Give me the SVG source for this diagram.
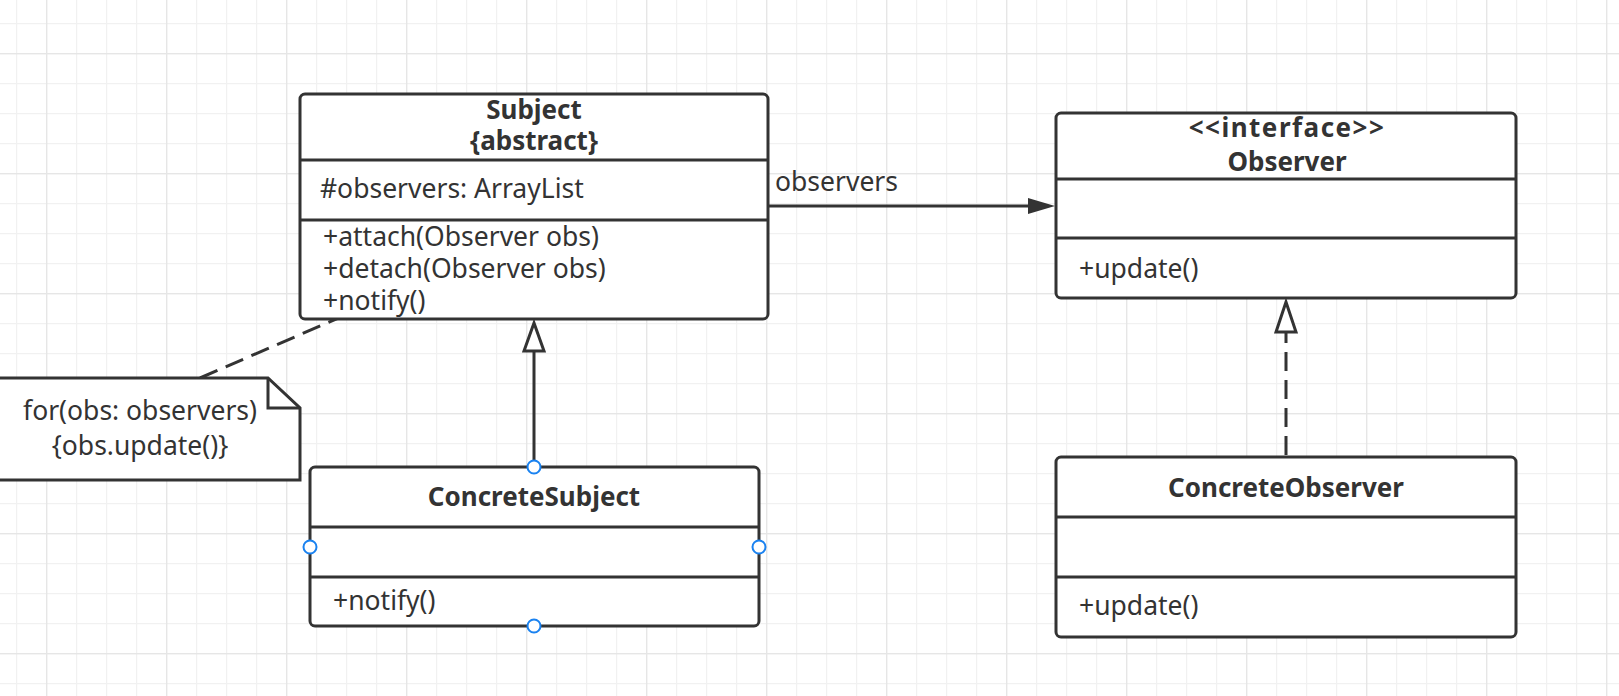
<svg xmlns="http://www.w3.org/2000/svg" width="1619" height="696" viewBox="0 0 1619 696">
<defs>
<pattern id="grid" x="46" y="53" width="120" height="120" patternUnits="userSpaceOnUse">
<rect x="0" y="0" width="120" height="120" fill="#ffffff"/>
<rect x="30" y="0" width="1.2" height="120" fill="#f1f1f1"/>
<rect x="60" y="0" width="1.2" height="120" fill="#f1f1f1"/>
<rect x="90" y="0" width="1.2" height="120" fill="#f1f1f1"/>
<rect x="0" y="30" width="120" height="1.2" fill="#f1f1f1"/>
<rect x="0" y="60" width="120" height="1.2" fill="#f1f1f1"/>
<rect x="0" y="90" width="120" height="1.2" fill="#f1f1f1"/>
<rect x="0" y="0" width="1.4" height="120" fill="#e6e6e6"/>
<rect x="0" y="0" width="120" height="1.4" fill="#e6e6e6"/>
</pattern>
</defs>
<style>
.box{fill:#ffffff;stroke:#333333;stroke-width:3}
.div{stroke:#333333;stroke-width:3}
.t{font-family:"Noto Sans","Open Sans","DejaVu Sans",sans-serif;font-size:26.5px;fill:#333333}
.b{font-family:"Noto Sans","Open Sans","DejaVu Sans",sans-serif;font-size:26px;font-weight:bold;fill:#333333;text-anchor:middle}
.c{text-anchor:middle}
.ln{stroke:#333333;stroke-width:3;fill:none}
.dash{stroke-dasharray:19 9}
.h{fill:#ffffff;stroke:#1a82f0;stroke-width:2}
</style>
<rect x="0" y="0" width="1619" height="696" fill="url(#grid)"/>

<g id="connectors">
<line class="ln" x1="768" y1="206" x2="1030" y2="206"/>
<polygon points="1055,206 1028,198 1028,214" fill="#333333"/>
<text class="t" x="775" y="191">observers</text>
<line class="ln" x1="534" y1="467" x2="534" y2="351"/>
<polygon points="534,323 524,351 544,351" fill="#ffffff" stroke="#333333" stroke-width="3" stroke-linejoin="miter"/>
<line class="ln dash" x1="1286" y1="455" x2="1286" y2="332"/>
<polygon points="1286,302 1276,332 1296,332" fill="#ffffff" stroke="#333333" stroke-width="3"/>
<line class="ln dash" x1="200" y1="378" x2="373" y2="303"/>
</g>

<g id="subject">
<rect class="box" x="300" y="94" width="468" height="225" rx="5"/>
<line class="div" x1="300" y1="160" x2="768" y2="160"/>
<line class="div" x1="300" y1="220" x2="768" y2="220"/>
<text class="b" x="534" y="119">Subject</text>
<text class="b" x="534" y="150">{abstract}</text>
<text class="t" x="320" y="198">#observers: ArrayList</text>
<text class="t" x="323" y="246">+attach(Observer obs)</text>
<text class="t" x="323" y="278">+detach(Observer obs)</text>
<text class="t" x="323" y="310">+notify()</text>
</g>

<g id="observer">
<rect class="box" x="1056" y="113" width="460" height="185" rx="5"/>
<line class="div" x1="1056" y1="179" x2="1516" y2="179"/>
<line class="div" x1="1056" y1="238" x2="1516" y2="238"/>
<text class="b" x="1287" y="137" style="letter-spacing:1.5px">&lt;&lt;interface&gt;&gt;</text>
<text class="b" x="1287" y="171">Observer</text>
<text class="t" x="1079" y="278">+update()</text>
</g>

<g id="note">
<polygon class="box" points="-5,378 268,378 300,408 300,480 -5,480"/>
<polyline class="ln" points="268,378 268,408 300,408"/>
<text class="t c" x="140" y="420">for(obs: observers)</text>
<text class="t c" x="140" y="455">{obs.update()}</text>
</g>

<g id="concrete-subject">
<rect class="box" x="310" y="467" width="449" height="159" rx="5"/>
<line class="div" x1="310" y1="527" x2="759" y2="527"/>
<line class="div" x1="310" y1="577" x2="759" y2="577"/>
<text class="b" x="534" y="506">ConcreteSubject</text>
<text class="t" x="333" y="610">+notify()</text>
<circle class="h" cx="534" cy="467" r="6.5"/>
<circle class="h" cx="310" cy="547" r="6.5"/>
<circle class="h" cx="759" cy="547" r="6.5"/>
<circle class="h" cx="534" cy="626" r="6.5"/>
</g>

<g id="concrete-observer">
<rect class="box" x="1056" y="457" width="460" height="180" rx="5"/>
<line class="div" x1="1056" y1="517" x2="1516" y2="517"/>
<line class="div" x1="1056" y1="577" x2="1516" y2="577"/>
<text class="b" x="1286" y="497">ConcreteObserver</text>
<text class="t" x="1079" y="615">+update()</text>
</g>
</svg>
